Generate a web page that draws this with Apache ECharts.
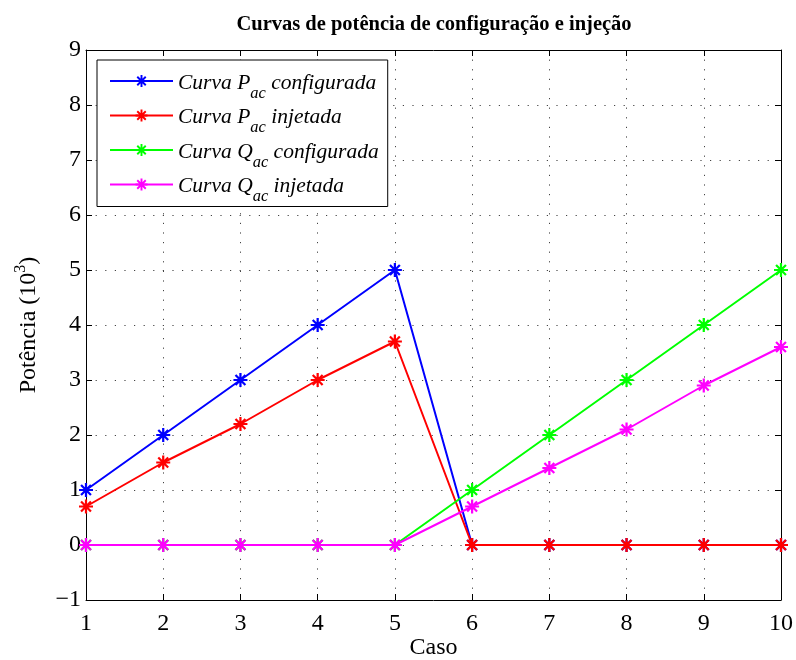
<!DOCTYPE html>
<html>
<head>
<meta charset="utf-8">
<script src="https://cdn.jsdelivr.net/npm/echarts@6/dist/echarts.min.js"></script>
<style>html,body{margin:0;padding:0;background:#fff;overflow:hidden}#c{width:796px;height:660px}</style>
</head>
<body>
<div id="c"></div>
<script>
const cases = [1, 2, 3, 4, 5, 6, 7, 8, 9, 10];
const pacConfigurada = [1, 2, 3, 4, 5, 0, 0, 0, 0, 0];
const pacInjetada = [0.7, 1.5, 2.2, 3, 3.7, 0, 0, 0, 0, 0];
const qacConfigurada = [0, 0, 0, 0, 0, 1, 2, 3, 4, 5];
const qacInjetada = [0, 0, 0, 0, 0, 0.7, 1.4, 2.1, 2.9, 3.6];
const seriesNames = ['Pconf', 'Pinj', 'Qconf', 'Qinj'];
const legendLabels = {
  Pconf: '{a|Curva P}{s|ac}{a| configurada}',
  Pinj: '{a|Curva P}{s|ac}{a| injetada}',
  Qconf: '{a|Curva Q}{s|ac}{a| configurada}',
  Qinj: '{a|Curva Q}{s|ac}{a| injetada}'
};
const colors = ['#0000ff', '#ff0000', '#00ff00', '#ff00ff'];

const asterisk = 'path://M0 8.4L20 8.4L20 11.6L0 11.6Z M8.4 0L11.6 0L11.6 20L8.4 20Z M1.80 4.06L4.06 1.80L18.20 15.94L15.94 18.20Z M15.94 1.80L18.20 4.06L4.06 18.20L1.80 15.94Z';
const FONT = 'Liberation Serif';

function pairs(arr) { return cases.map((c, i) => [c, arr[i]]); }
const allData = [pacConfigurada, pacInjetada, qacConfigurada, qacInjetada];

const chart = echarts.init(document.getElementById('c'), null, {renderer: 'canvas', width: 796, height: 660});
const gridLine = {show: true, lineStyle: {color: '#444', width: 1, type: [1.2, 8.4]}};
chart.setOption({
  animation: false,
  backgroundColor: '#fff',
  title: {
    text: 'Curvas de potência de configuração e injeção',
    left: 429, top: 9, textAlign: 'center',
    textStyle: {fontFamily: FONT, fontSize: 20.5, fontWeight: 'bold', color: '#000'}
  },
  grid: {left: 86, right: 15, top: 50, bottom: 60, containLabel: false, outerBoundsMode: 'none'},
  legend: {
    data: seriesNames,
    orient: 'vertical',
    left: 97, top: 60,
    padding: [10, 9, 1, 12],
    itemGap: 2.5,
    itemWidth: 63, itemHeight: 15,
    backgroundColor: '#fff',
    borderColor: '#000', borderWidth: 1,
    formatter: n => legendLabels[n],
    textStyle: {
      fontFamily: FONT, color: '#000',
      rich: {
        a: {fontFamily: FONT, fontStyle: 'italic', fontSize: 21.5, lineHeight: 22, padding: [2, 0, 0, 0], verticalAlign: 'top', color: '#000'},
        s: {fontFamily: FONT, fontStyle: 'italic', fontSize: 16.5, lineHeight: 17, padding: [15, 0, 0, 0], verticalAlign: 'top', color: '#000'}
      }
    }
  },
  xAxis: [{
    type: 'value', min: 1, max: 10, interval: 1,
    name: 'Caso', nameLocation: 'middle', nameGap: 36, nameMoveOverlap: false,
    nameTextStyle: {fontFamily: FONT, fontSize: 24, color: '#000'},
    axisLine: {show: true, onZero: false, lineStyle: {color: '#000', width: 1}},
    axisTick: {show: true, inside: true, length: 6, lineStyle: {color: '#000'}},
    axisLabel: {fontFamily: FONT, fontSize: 24, color: '#000', margin: 12},
    splitLine: gridLine
  }, {
    type: 'value', min: 1, max: 10, interval: 1, position: 'top',
    axisLine: {show: true, onZero: false, lineStyle: {color: '#000', width: 1}},
    axisTick: {show: true, inside: true, length: 6, lineStyle: {color: '#000'}},
    axisLabel: {show: false}, splitLine: {show: false}
  }],
  yAxis: [{
    type: 'value', min: -1, max: 9, interval: 1,
    name: '{a|Potência (10}{p|3}{a|)}', nameLocation: 'middle', nameGap: 45,
    nameTextStyle: {
      fontFamily: FONT, fontSize: 24, color: '#000',
      rich: {
        a: {fontFamily: FONT, fontSize: 24, color: '#000', lineHeight: 24, verticalAlign: 'bottom'},
        p: {fontFamily: FONT, fontSize: 16, color: '#000', lineHeight: 16, padding: [0, 0, 12, 0], verticalAlign: 'bottom'}
      }
    },
    axisLine: {show: true, onZero: false, lineStyle: {color: '#000', width: 1}},
    axisTick: {show: true, inside: true, length: 6, lineStyle: {color: '#000'}},
    axisLabel: {fontFamily: FONT, fontSize: 24, color: '#000', margin: 5,
      formatter: v => v < 0 ? '\u2212' + Math.abs(v) : String(v)},
    splitLine: gridLine
  }, {
    type: 'value', min: -1, max: 9, interval: 1, position: 'right',
    axisLine: {show: true, onZero: false, lineStyle: {color: '#000', width: 1}},
    axisTick: {show: true, inside: true, length: 6, lineStyle: {color: '#000'}},
    axisLabel: {show: false}, splitLine: {show: false}
  }],
  series: seriesNames.map((n, i) => ({
    name: n, type: 'line', data: pairs(allData[i]),
    xAxisIndex: 0, yAxisIndex: 0,
    symbol: asterisk, symbolSize: 14, showAllSymbol: true,
    lineStyle: {color: colors[i], width: 2},
    itemStyle: {color: colors[i]},
    z: 2 + i
  }))
});
</script>
</body>
</html>
